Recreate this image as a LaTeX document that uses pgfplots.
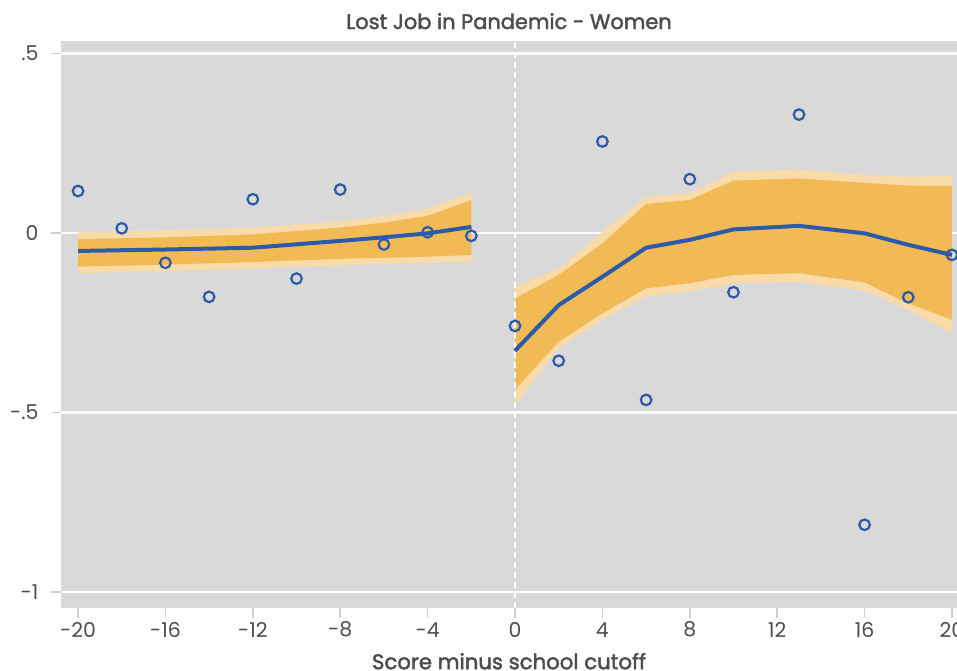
\documentclass[border=0pt]{standalone}
\usepackage{fontspec}
\setmainfont{Poppins}
\newfontfamily\medfont{Poppins}[FakeBold=2]
\usepackage{pgfplots}
\pgfplotsset{compat=1.18}
\usepgfplotslibrary{fillbetween}
\definecolor{bgc}{HTML}{D9D9D9}
\definecolor{inner}{HTML}{F2BA55}
\definecolor{outer}{HTML}{F8DBA9}
\definecolor{blu}{HTML}{2B5BA8}
\definecolor{txt}{HTML}{4D4D4D}
\definecolor{tickc}{HTML}{D0D0D0}
\begin{document}
\begin{tikzpicture}[x=1bp,y=1bp]
\begin{axis}[
  at={(61bp,63.3bp)}, anchor=south west,
  scale only axis, width=896bp, height=566.7bp,
  xmin=-20.78, xmax=20.23, ymin=-1.044, ymax=0.535,
  axis background/.style={fill=bgc},
  axis line style={draw=none},
  xtick={-20,-16,...,20},
  xticklabels={-20,-16,-12,-8,-4,0,4,8,12,16,20},
  ytick={-1,-0.5,0,0.5},
  yticklabels={-1,-.5,0,.5},
  xtick pos=bottom, ytick pos=left,
  tick align=outside, major tick length=10bp,
  tick style={tickc, line width=1.5bp},
  ymajorgrids, grid style={white, line width=2.3bp},
  ticklabel style={font=\fontsize{20.5}{22}\selectfont, text=txt},
  xticklabel style={anchor=center, yshift=-12bp},
  yticklabel style={anchor=east, xshift=-9bp},
  title={Lost Job in Pandemic - Women},
  title style={font=\medfont\fontsize{21}{24}\selectfont, text=txt, at={(0.5,1)}, anchor=base, yshift=6bp},
  xlabel={Score minus school cutoff},
  xlabel style={font=\medfont\fontsize{21.3}{24}\selectfont, text=txt, at={(0.5,0)}, anchor=base, yshift=-61.5bp},
  clip=true,
]
% left outer band
\addplot[name path=lot, draw=none] coordinates {(-20,0.002) (-16,0.008) (-12,0.015) (-8,0.033) (-6,0.047) (-4,0.068) (-2,0.113)};
\addplot[name path=lob, draw=none] coordinates {(-20,-0.112) (-16,-0.106) (-12,-0.099) (-8,-0.090) (-4,-0.083) (-2,-0.080)};
\addplot[outer] fill between[of=lot and lob];
\addplot[name path=lit, draw=none] coordinates {(-20,-0.017) (-16,-0.012) (-12,-0.004) (-8,0.015) (-6,0.029) (-4,0.048) (-2,0.092)};
\addplot[name path=lib, draw=none] coordinates {(-20,-0.094) (-16,-0.088) (-12,-0.081) (-8,-0.072) (-4,-0.066) (-2,-0.061)};
\addplot[inner] fill between[of=lit and lib];
% right bands
\addplot[name path=rot, draw=none] coordinates {(0,-0.150) (2,-0.098) (4,0.004) (6,0.101) (8,0.111) (10,0.171) (13,0.177) (16,0.162) (18,0.157) (20,0.160)};
\addplot[name path=rob, draw=none] coordinates {(0,-0.479) (2,-0.321) (4,-0.242) (6,-0.177) (8,-0.163) (10,-0.140) (13,-0.136) (16,-0.161) (18,-0.214) (20,-0.279)};
\addplot[outer] fill between[of=rot and rob];
\addplot[name path=rit, draw=none] coordinates {(0,-0.182) (2,-0.117) (4,-0.029) (6,0.081) (8,0.092) (10,0.146) (13,0.152) (16,0.140) (18,0.132) (20,0.131)};
\addplot[name path=rib, draw=none] coordinates {(0,-0.437) (2,-0.303) (4,-0.224) (6,-0.154) (8,-0.140) (10,-0.117) (13,-0.112) (16,-0.138) (18,-0.196) (20,-0.242)};
\addplot[inner] fill between[of=rit and rib];
% cutoff line
\addplot[white, line width=2bp, dash pattern=on 6bp off 4bp] coordinates {(0,-1.044) (0,0.535)};
% fitted lines
\addplot[blu, line width=4bp, line join=round] coordinates {(-20,-0.050) (-16,-0.046) (-12,-0.041) (-8,-0.022) (-6,-0.012) (-4,-0.001) (-2,0.017)};
\addplot[blu, line width=4bp, line join=round] coordinates {(0,-0.328) (2,-0.201) (4,-0.122) (6,-0.041) (8,-0.019) (10,0.010) (13,0.020) (16,-0.001) (18,-0.033) (20,-0.061)};
% binned means
\addplot[only marks, mark=o, mark size=5.3bp, mark options={blu, line width=2.2bp}] coordinates {
(-20,0.117) (-18,0.013) (-16,-0.083) (-14,-0.178) (-12,0.094) (-10,-0.127) (-8,0.121) (-6,-0.032) (-4,0.002) (-2,-0.008)
(0,-0.259) (2,-0.356) (4,0.255) (6,-0.465) (8,0.150) (10,-0.165) (13,0.330) (16,-0.813) (18,-0.179) (20,-0.061)};
\end{axis}
\pgfresetboundingbox
\useasboundingbox (0,0) rectangle (957bp,671bp);
\end{tikzpicture}
\end{document}
